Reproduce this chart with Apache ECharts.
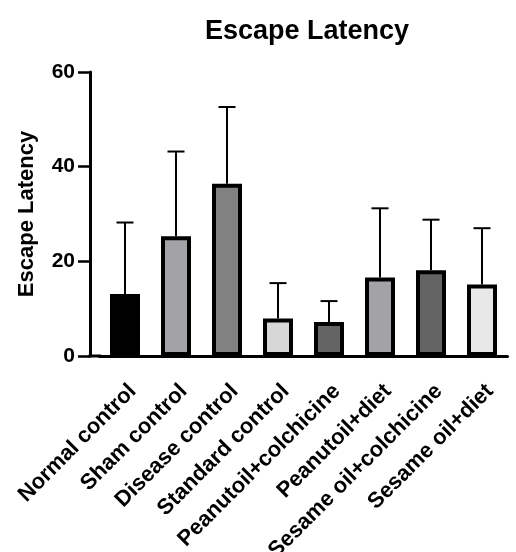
<!DOCTYPE html>
<html>
<head>
<meta charset="utf-8">
<script src="https://cdn.jsdelivr.net/npm/echarts@6/dist/echarts.min.js"></script>
<style>
html,body{margin:0;padding:0;background:#fff;}
#chart{width:516px;height:552px;}
</style>
</head>
<body>
<div id="chart"></div>
<script>
var categories = ['Normal control','Sham control','Disease control','Standard control','Peanutoil+colchicine','Peanutoil+diet','Sesame oil+colchicine','Sesame oil+diet'];
var means = [13.1, 25.3, 36.4, 7.9, 7.2, 16.6, 18.1, 15.1];
var sds = [15.1, 17.9, 16.2, 7.5, 4.4, 14.6, 10.7, 11.9];
var barColors = ['#000000','#a3a3a7','#818181','#d7d7d7','#646464','#a3a3a7','#636363','#e8e8e8'];
var yTicks = [0, 20, 40, 60];

var FONT = '"Liberation Sans", Arial, sans-serif';
var chart = echarts.init(document.getElementById('chart'), null, {renderer:'canvas'});

var barData = means.map(function(v, i){
  return {value: v, itemStyle: {color: barColors[i]}};
});
var errData = means.map(function(v, i){ return [i, v, v + sds[i]]; });

chart.setOption({
  animation: false,
  backgroundColor: '#fff',
  title: {
    text: 'Escape Latency',
    left: 200, top: 13,
    textStyle: {fontFamily: FONT, fontWeight: 'bold', fontSize: 27, color: '#000'}
  },
  grid: {left: 99.5, right: 8.5, top: 72, bottom: 196, containLabel: false, outerBoundsMode: 'none'},
  xAxis: {
    type: 'category',
    data: categories,
    axisLine: {lineStyle: {color: '#000', width: 3}},
    axisTick: {alignWithLabel: true, length: 11, lineStyle: {color: '#000', width: 2.5}},
    axisLabel: {rotate: 45, margin: 24, align: 'right', verticalAlign: 'top', interval: 0, color: '#000', fontFamily: FONT, fontWeight: 'bold', fontSize: 22}
  },
  yAxis: {
    type: 'value',
    min: yTicks[0], max: yTicks[yTicks.length-1], interval: 20,
    offset: 9.5,
    name: 'Escape Latency',
    nameLocation: 'middle',
    nameGap: 52,
    nameTextStyle: {fontFamily: FONT, fontWeight: 'bold', fontSize: 22, color: '#000'},
    axisLine: {show: true, lineStyle: {color: '#000', width: 3}},
    axisTick: {show: true, length: 12, lineStyle: {color: '#000', width: 2.5}},
    axisLabel: {margin: 15, color: '#000', fontFamily: FONT, fontWeight: 'bold', fontSize: 21},
    splitLine: {show: false}
  },
  graphic: [{
    type: 'line', z: 10,
    shape: {x1: 88.5, y1: 356, x2: 101, y2: 356},
    style: {stroke: '#000', lineWidth: 3}
  }],
  series: [{
    type: 'bar',
    data: barData,
    barWidth: 30,
    itemStyle: {borderColor: '#000', borderWidth: 4},
    z: 2
  },{
    type: 'custom',
    data: errData,
    z: 3,
    renderItem: function(params, api){
      var x = api.value(0);
      var p0 = api.coord([x, api.value(1)]);
      var p1 = api.coord([x, api.value(2)]);
      var half = 8.5;
      return {
        type: 'group',
        children: [
          {type: 'line', shape: {x1: p0[0], y1: p0[1], x2: p1[0], y2: p1[1]}, style: {stroke: '#000', lineWidth: 2}},
          {type: 'line', shape: {x1: p1[0]-half, y1: p1[1], x2: p1[0]+half, y2: p1[1]}, style: {stroke: '#000', lineWidth: 2}}
        ]
      };
    }
  }]
});
</script>
</body>
</html>
